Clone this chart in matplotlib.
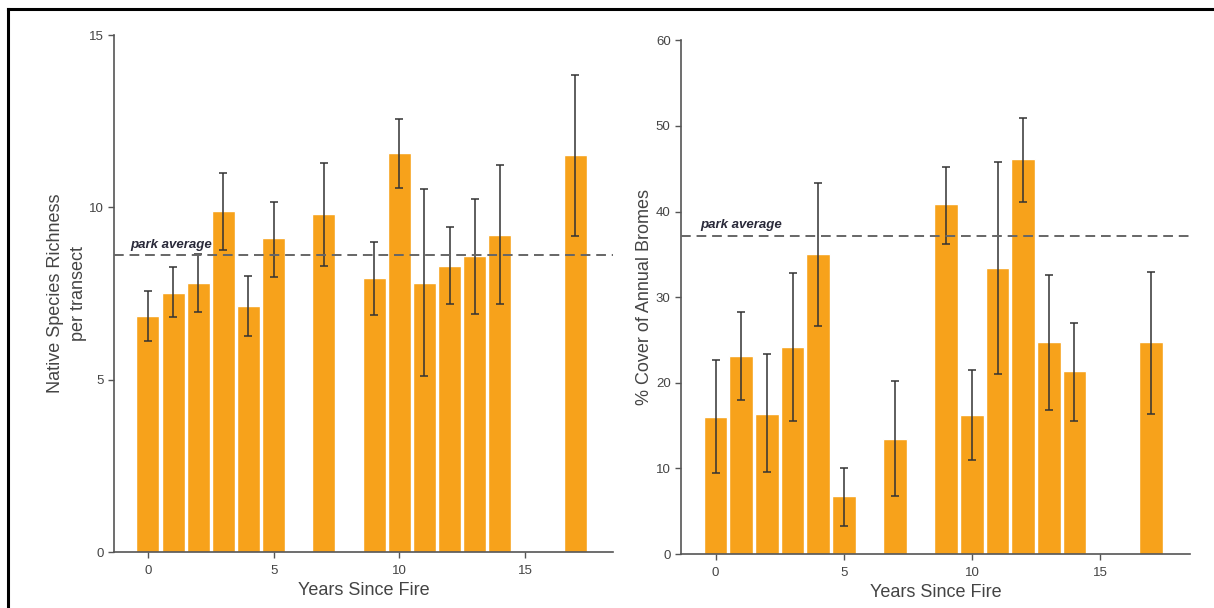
import matplotlib
matplotlib.use("Agg")
import matplotlib.pyplot as plt

plt.rcParams['font.family'] = ['Liberation Sans', 'DejaVu Sans']

years = [0, 1, 2, 3, 4, 5, 7, 9, 10, 11, 12, 13, 14, 17]

richness = [6.85, 7.53, 7.81, 9.89, 7.13, 9.10, 9.81, 7.94, 11.57, 7.81, 8.31, 8.60, 9.21, 11.52]
richness_lo = [6.12, 6.82, 6.97, 8.76, 6.26, 7.98, 8.31, 6.89, 10.56, 5.11, 7.19, 6.91, 7.19, 9.18]
richness_hi = [7.58, 8.28, 8.65, 10.99, 8.01, 10.17, 11.29, 8.99, 12.58, 10.53, 9.44, 10.25, 11.24, 13.85]
richness_avg = 8.62

bromes = [16.04, 23.14, 16.40, 24.22, 35.07, 6.78, 13.47, 40.90, 16.27, 33.35, 46.09, 24.76, 21.37, 24.76]
bromes_lo = [9.49, 17.98, 9.63, 15.50, 26.66, 3.30, 6.78, 36.24, 10.98, 21.01, 41.12, 16.85, 15.59, 16.40]
bromes_hi = [22.64, 28.24, 23.41, 32.81, 43.29, 9.99, 20.24, 45.23, 21.46, 45.77, 50.97, 32.58, 27.02, 32.99]
bromes_avg = 37.19

x_ticks = [0, 5, 10, 15]
left_yticks = [0, 5, 10, 15]
right_yticks = [0, 10, 20, 30, 40, 50, 60]

BAR = '#F7A21B'
AX = '#555555'

fig = plt.figure(figsize=(12.14, 6.08), dpi=100)

def panel(rect, vals, lo, hi, avg, ylim, yticks, ylabel, label_x, ylabelpad):
    ax = fig.add_axes(rect)
    yerr = [[v - l for v, l in zip(vals, lo)], [h - v for v, h in zip(vals, hi)]]
    ax.bar(years, vals, width=0.92, color=BAR, edgecolor='white', linewidth=1.0, zorder=2)
    ax.errorbar(years, vals, yerr=yerr, fmt='none', ecolor='#333333', elinewidth=1.1,
                capsize=2.8, capthick=1.1, zorder=3)
    ax.axhline(avg, color='#666666', linestyle=(0, (5, 3)), linewidth=1.4, zorder=4)
    ax.text(label_x, avg + ylim[1] * 0.008, 'park average', fontstyle='italic', fontweight='bold',
            fontsize=9.5, color='#2a2a3a', ha='left', va='bottom', zorder=5)
    ax.set_xlim(-1.35, 18.5)
    ax.set_ylim(*ylim)
    ax.set_xticks(x_ticks)
    ax.set_yticks(yticks)
    for s in ['top', 'right']:
        ax.spines[s].set_visible(False)
    for s in ['left', 'bottom']:
        ax.spines[s].set_color(AX)
        ax.spines[s].set_linewidth(1.2)
    ax.tick_params(colors=AX, labelcolor='#444444', labelsize=9.5, length=4, width=1.0)
    ax.tick_params(axis='x', pad=5)
    ax.set_xlabel('Years Since Fire', fontsize=13, color='#444444', labelpad=4)
    ax.set_ylabel(ylabel, fontsize=13, color='#444444', labelpad=ylabelpad, linespacing=1.45)
    return ax

panel([0.0939, 0.0921, 0.411, 0.850], richness, richness_lo, richness_hi, richness_avg,
      (0, 15), left_yticks, 'Native Species Richness\nper transect', -0.7, 1)
panel([0.561, 0.0888, 0.419, 0.845], bromes, bromes_lo, bromes_hi, bromes_avg,
      (0, 60), right_yticks, '% Cover of Annual Bromes', -0.6, 2)

# outer frame (top and left)
fig.add_artist(plt.Line2D([8 / 1214, 1.0], [1 - 9 / 608, 1 - 9 / 608], transform=fig.transFigure,
                          color='black', linewidth=2.2))
fig.add_artist(plt.Line2D([8 / 1214, 8 / 1214], [0.0, 1 - 9 / 608], transform=fig.transFigure,
                          color='black', linewidth=2.2))

fig.savefig('out.png', dpi=100, facecolor='white')
